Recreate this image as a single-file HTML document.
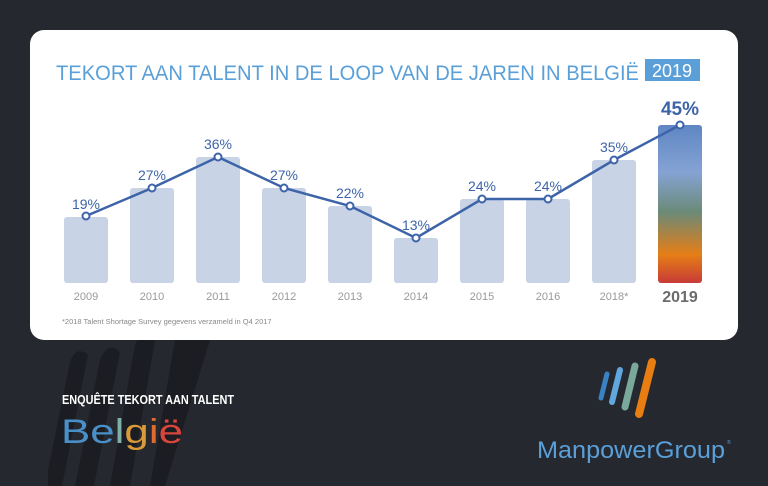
<!DOCTYPE html>
<html><head><style>
html,body{margin:0;padding:0;width:768px;height:486px;background:#26282f;overflow:hidden}
svg{display:block}
</style></head><body>
<svg width="768" height="486" viewBox="0 0 768 486" xmlns="http://www.w3.org/2000/svg" font-family="Liberation Sans, sans-serif">
<defs>
<linearGradient id="g" x1="0" y1="0" x2="0" y2="1">
<stop offset="0" stop-color="#5f86c4"/>
<stop offset="0.3" stop-color="#84a3d3"/>
<stop offset="0.55" stop-color="#6b8a78"/>
<stop offset="0.82" stop-color="#e57e16"/>
<stop offset="1" stop-color="#c73b37"/>
</linearGradient>
</defs>
<rect width="768" height="486" fill="#26282f"/>
<g fill="#1c1d22">
<path d="M48 470 L70 362 Q76 345 88 355 L62 486 L48 486 Z"/>
<path d="M75 486 L100 360 Q108 340 120 352 L94 486 Z"/>
<path d="M110 486 L135 345 Q142 328 155 340 L130 486 Z"/>
<path d="M150 486 L175 340 L210 340 L165 486 Z"/>
</g>
<rect x="30" y="30" width="708" height="310" rx="14" fill="#fff"/>
<text x="56" y="80" font-size="21" fill="#5a9fd8" textLength="583" lengthAdjust="spacingAndGlyphs">TEKORT AAN TALENT IN DE LOOP VAN DE JAREN IN BELGIË</text>
<rect x="645" y="59" width="55" height="22" fill="#5a9fd8"/>
<text x="672" y="77" font-size="18" fill="#fff" text-anchor="middle">2019</text>
<g fill="#c8d3e6">
<rect x="64" y="217" width="44" height="66" rx="3"/>
<rect x="130" y="188" width="44" height="95" rx="3"/>
<rect x="196" y="157" width="44" height="126" rx="3"/>
<rect x="262" y="188" width="44" height="95" rx="3"/>
<rect x="328" y="206" width="44" height="77" rx="3"/>
<rect x="394" y="238" width="44" height="45" rx="3"/>
<rect x="460" y="199" width="44" height="84" rx="3"/>
<rect x="526" y="199" width="44" height="84" rx="3"/>
<rect x="592" y="160" width="44" height="123" rx="3"/>
</g>
<rect x="658" y="125" width="44" height="158" rx="3" fill="url(#g)"/>
<polyline points="86,216 152,188 218,157 284,188 350,206 416,238 482,199 548,199 614,160 680,125" fill="none" stroke="#3d64a8" stroke-width="2.5"/>
<g fill="#fff" stroke="#3d64a8" stroke-width="2">
<circle cx="86" cy="216" r="3.5"/><circle cx="152" cy="188" r="3.5"/><circle cx="218" cy="157" r="3.5"/><circle cx="284" cy="188" r="3.5"/><circle cx="350" cy="206" r="3.5"/><circle cx="416" cy="238" r="3.5"/><circle cx="482" cy="199" r="3.5"/><circle cx="548" cy="199" r="3.5"/><circle cx="614" cy="160" r="3.5"/><circle cx="680" cy="125" r="3.5"/>
</g>
<g fill="#3d64a8" font-size="14" text-anchor="middle">
<text x="86" y="209">19%</text><text x="152" y="180">27%</text><text x="218" y="149">36%</text><text x="284" y="180">27%</text><text x="350" y="198">22%</text><text x="416" y="230">13%</text><text x="482" y="191">24%</text><text x="548" y="191">24%</text><text x="614" y="152">35%</text>
<text x="680" y="115" font-size="19" font-weight="bold">45%</text>
</g>
<g fill="#999" font-size="11" text-anchor="middle">
<text x="86" y="300">2009</text><text x="152" y="300">2010</text><text x="218" y="300">2011</text><text x="284" y="300">2012</text><text x="350" y="300">2013</text><text x="416" y="300">2014</text><text x="482" y="300">2015</text><text x="548" y="300">2016</text><text x="614" y="300">2018*</text>
</g>
<text x="680" y="302" font-size="16" font-weight="bold" fill="#6b6b6b" text-anchor="middle">2019</text>
<text x="62" y="324" font-size="7.5" fill="#888">*2018 Talent Shortage Survey gegevens verzameld in Q4 2017</text>
<text x="62" y="404" font-size="13" font-weight="bold" fill="#fff" textLength="172" lengthAdjust="spacingAndGlyphs">ENQUÊTE TEKORT AAN TALENT</text>
<text x="61" y="443" font-size="34" textLength="122" lengthAdjust="spacingAndGlyphs"><tspan fill="#4a90c8">Be</tspan><tspan fill="#7fb0a8">l</tspan><tspan fill="#d99a3a">g</tspan><tspan fill="#e06a30">i</tspan><tspan fill="#d9453c">ë</tspan></text>
<g stroke-linecap="round">
<line x1="601" y1="398" x2="607" y2="374" stroke="#3b82c4" stroke-width="5"/>
<line x1="612" y1="402" x2="620" y2="370" stroke="#5fa7dc" stroke-width="6"/>
<line x1="625" y1="407" x2="635" y2="366" stroke="#7aa89a" stroke-width="7"/>
<line x1="639" y1="414" x2="652" y2="362" stroke="#e87d12" stroke-width="8"/>
</g>
<text x="537" y="458" font-size="24" fill="#5a9fd8" textLength="188" lengthAdjust="spacingAndGlyphs">ManpowerGroup</text>
<text x="727" y="444" font-size="5" fill="#5a9fd8">®</text>
</svg>
</body></html>
